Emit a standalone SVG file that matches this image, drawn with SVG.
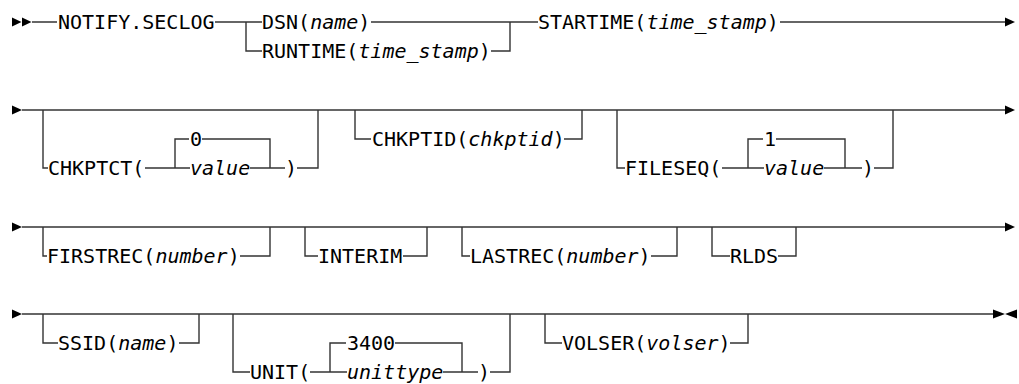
<svg xmlns="http://www.w3.org/2000/svg" width="1019" height="384" viewBox="0 0 1019 384">
<style>
.t{font-family:"DejaVu Sans Mono","Liberation Mono",monospace;font-size:20px;fill:#000}
.i{font-style:italic}
.c path{fill:none;stroke:#333;stroke-width:1.4}
.a{fill:#000}
</style>
<rect width="1019" height="384" fill="#fff"/>
<g class="c" id="connectors">
<!-- row 1 -->
<path d="M32 22H1005"/>
<path d="M246 22V51H262"/>
<path d="M491 51H510V22"/>
<!-- row 2 -->
<path d="M22 110H1005"/>
<path d="M43 110V168H48"/>
<path d="M145 168H190"/>
<path d="M175 168V139H189"/>
<path d="M202 139H270V168"/>
<path d="M250 168H285"/>
<path d="M297 168H318V110"/>
<path d="M355 110V139H371"/>
<path d="M564 139H582V110"/>
<path d="M617 110V168H625"/>
<path d="M722 168H764"/>
<path d="M748 168V139H763"/>
<path d="M776 139H845V168"/>
<path d="M824 168H862"/>
<path d="M874 168H893V110"/>
<!-- row 3 -->
<path d="M22 227H1005"/>
<path d="M43 227V256H47"/>
<path d="M240 256H270V227"/>
<path d="M305 227V256H318"/>
<path d="M403 256H427V227"/>
<path d="M462 227V256H470"/>
<path d="M651 256H677V227"/>
<path d="M712 227V256H730"/>
<path d="M778 256H796V227"/>
<!-- row 4 -->
<path d="M22 314H993"/>
<path d="M43 314V343H58"/>
<path d="M179 343H199V314"/>
<path d="M233 314V372H250"/>
<path d="M310 372H347"/>
<path d="M330 372V343H346"/>
<path d="M395 343H462V372"/>
<path d="M443 372H478"/>
<path d="M490 372H510V314"/>
<path d="M545 314V343H562"/>
<path d="M730 343H748V314"/>
</g>
<g id="arrows" class="a">
<path d="M12 17.5L21.5 22L12 26.5Z"/>
<path d="M22 17.5L31.5 22L22 26.5Z"/>
<path d="M1005 17.5L1015 22L1005 26.5Z"/>
<path d="M12 105.5L22 110L12 114.5Z"/>
<path d="M1005 105.5L1015 110L1005 114.5Z"/>
<path d="M12 222.5L22 227L12 231.5Z"/>
<path d="M1005 222.5L1015 227L1005 231.5Z"/>
<path d="M12 309.5L22 314L12 318.5Z"/>
<path d="M993 309.5L1005 314L993 318.5Z"/>
<path d="M1017 309.5L1005 314L1017 318.5Z"/>
</g>
<g id="notify"><rect x="57" y="12" width="158" height="20" fill="#fff"/><text class="t" x="58" y="29">NOTIFY.SECLOG</text></g>
<g id="dsn"><rect x="262" y="12" width="109" height="20" fill="#fff"/><text class="t" x="262" y="29">DSN(<tspan class="i">name</tspan>)</text></g>
<g id="runtime"><text class="t" x="262" y="58">RUNTIME(<tspan class="i">time_stamp</tspan>)</text></g>
<g id="startime"><rect x="538" y="12" width="242" height="20" fill="#fff"/><text class="t" x="538" y="29">STARTIME(<tspan class="i">time_stamp</tspan>)</text></g>
<g id="chkptct"><text class="t" x="48" y="175">CHKPTCT(</text><text class="t" x="190" y="146">0</text><text class="t i" x="190" y="175">value</text><text class="t" x="285" y="175">)</text></g>
<g id="chkptid"><text class="t" x="372" y="146">CHKPTID(<tspan class="i">chkptid</tspan>)</text></g>
<g id="fileseq"><text class="t" x="625" y="175">FILESEQ(</text><text class="t" x="764" y="146">1</text><text class="t i" x="764" y="175">value</text><text class="t" x="862" y="175">)</text></g>
<g id="firstrec"><text class="t" x="47" y="263">FIRSTREC(<tspan class="i">number</tspan>)</text></g>
<g id="interim"><text class="t" x="318" y="263">INTERIM</text></g>
<g id="lastrec"><text class="t" x="470" y="263">LASTREC(<tspan class="i">number</tspan>)</text></g>
<g id="rlds"><text class="t" x="730" y="263">RLDS</text></g>
<g id="ssid"><text class="t" x="58" y="350">SSID(<tspan class="i">name</tspan>)</text></g>
<g id="unit"><text class="t" x="250" y="379">UNIT(</text><text class="t" x="347" y="350">3400</text><text class="t i" x="347" y="379">unittype</text><text class="t" x="478" y="379">)</text></g>
<g id="volser"><text class="t" x="562" y="350">VOLSER(<tspan class="i">volser</tspan>)</text></g>
</svg>
